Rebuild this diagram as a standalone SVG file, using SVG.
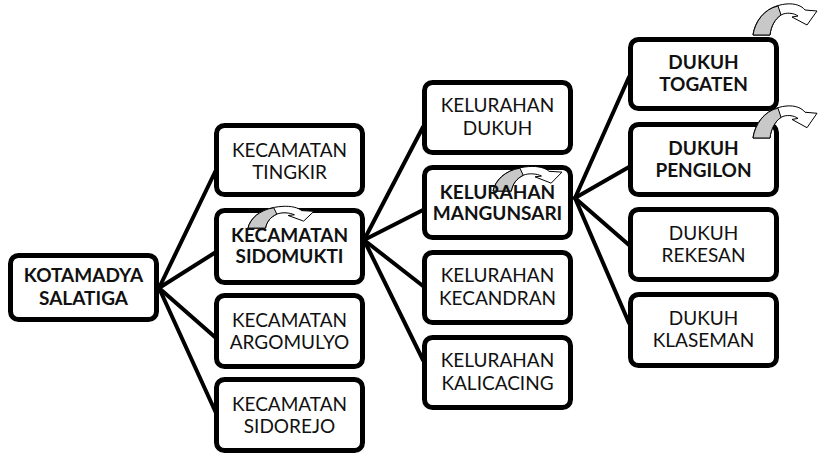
<svg xmlns="http://www.w3.org/2000/svg" xmlns:xlink="http://www.w3.org/1999/xlink" width="821" height="455" viewBox="0 0 821 455">
<style>
.box{fill:#fff;stroke:#000;stroke-width:5}
.t{font-family:Lato,"Noto Sans",sans-serif;font-size:19px;fill:#111;text-anchor:middle}
.b{font-weight:bold}
.conn line{stroke:#000;stroke-width:4;stroke-linecap:round}
.aw{fill:#fff;stroke:#000;stroke-width:1;stroke-linejoin:round}
.ag{fill:#c8c8c8;stroke:#000;stroke-width:1;stroke-linejoin:round}
</style>
<defs>
<g id="carrow">
<path class="aw" vector-effect="non-scaling-stroke" d="M1,33 C3,18 14,4 34,2 C43,1 50,4 53,8 L65,9 L55,23 L40,15 L46,14 C42,11 34,10 29,13 C23,17 19,24 18,33 Z"/>
<path class="ag" vector-effect="non-scaling-stroke" d="M1,33 C3,20 12,7 26,4 L29,13 C23,17 19,24 18,33 Z"/>
</g>
</defs>
<rect width="821" height="455" fill="#fff"/>
<g id="connectors" class="conn">
<line x1="159" y1="288" x2="216" y2="170"/>
<line x1="159" y1="288" x2="216" y2="252"/>
<line x1="159" y1="288" x2="216" y2="338"/>
<line x1="159" y1="288" x2="216" y2="413"/>
<line x1="364" y1="240" x2="423" y2="127"/>
<line x1="364" y1="240" x2="423" y2="210"/>
<line x1="364" y1="240" x2="423" y2="286"/>
<line x1="364" y1="240" x2="423" y2="360"/>
<line x1="575" y1="198" x2="629" y2="77"/>
<line x1="575" y1="198" x2="629" y2="167"/>
<line x1="575" y1="198" x2="629" y2="245"/>
<line x1="575" y1="198" x2="629" y2="323"/>
</g>
<g id="kotamadya">
<rect class="box" x="10.5" y="255.5" width="146" height="64" rx="8"/>
<text class="t b" x="83.5" y="282">KOTAMADYA</text>
<text class="t b" x="83.5" y="305">SALATIGA</text>
</g>
<g id="tingkir">
<rect class="box" x="216.5" y="125.5" width="146" height="69" rx="8"/>
<text class="t" x="289.5" y="157">KECAMATAN</text>
<text class="t" x="289.5" y="179">TINGKIR</text>
</g>
<g id="sidomukti">
<rect class="box" x="216.5" y="210.5" width="146" height="72" rx="8"/>
<use xlink:href="#carrow" transform="translate(247,205) scale(1.03,0.7)"/>
<text class="t b" x="289.5" y="242">KECAMATAN</text>
<text class="t b" x="289.5" y="263">SIDOMUKTI</text>
</g>
<g id="argomulyo">
<rect class="box" x="216.5" y="295.5" width="146" height="71" rx="8"/>
<text class="t" x="289.5" y="327">KECAMATAN</text>
<text class="t" x="289.5" y="349">ARGOMULYO</text>
</g>
<g id="sidorejo">
<rect class="box" x="216.5" y="379.5" width="146" height="71" rx="8"/>
<text class="t" x="289.5" y="411">KECAMATAN</text>
<text class="t" x="289.5" y="433">SIDOREJO</text>
</g>
<g id="kel-dukuh">
<rect class="box" x="424.5" y="82.5" width="146" height="70" rx="8"/>
<text class="t" x="497.5" y="112">KELURAHAN</text>
<text class="t" x="497.5" y="135">DUKUH</text>
</g>
<g id="mangunsari">
<rect class="box" x="424.5" y="167.5" width="146" height="70" rx="8"/>
<use xlink:href="#carrow" transform="translate(492,165) scale(1.076,0.79)"/>
<text class="t b" x="497.5" y="199">KELURAHAN</text>
<text class="t b" x="497.5" y="220">MANGUNSARI</text>
</g>
<g id="kecandran">
<rect class="box" x="424.5" y="252.5" width="146" height="70" rx="8"/>
<text class="t" x="497.5" y="282">KELURAHAN</text>
<text class="t" x="497.5" y="305">KECANDRAN</text>
</g>
<g id="kalicacing">
<rect class="box" x="424.5" y="337.5" width="146" height="70" rx="8"/>
<text class="t" x="497.5" y="367">KELURAHAN</text>
<text class="t" x="497.5" y="390">KALICACING</text>
</g>
<g id="togaten">
<rect class="box" x="630.5" y="39.5" width="146" height="69" rx="8"/>
<use xlink:href="#carrow" transform="translate(752,2)"/>
<text class="t b" x="703.5" y="69">DUKUH</text>
<text class="t b" x="703.5" y="91">TOGATEN</text>
</g>
<g id="pengilon">
<rect class="box" x="630.5" y="124.5" width="146" height="70" rx="8"/>
<use xlink:href="#carrow" transform="translate(752,104) scale(1,1.03)"/>
<text class="t b" x="703.5" y="155">DUKUH</text>
<text class="t b" x="703.5" y="177">PENGILON</text>
</g>
<g id="rekesan">
<rect class="box" x="630.5" y="209.5" width="146" height="70" rx="8"/>
<text class="t" x="703.5" y="240">DUKUH</text>
<text class="t" x="703.5" y="262">REKESAN</text>
</g>
<g id="klaseman">
<rect class="box" x="630.5" y="294.5" width="146" height="71" rx="8"/>
<text class="t" x="703.5" y="325">DUKUH</text>
<text class="t" x="703.5" y="347">KLASEMAN</text>
</g>
</svg>
